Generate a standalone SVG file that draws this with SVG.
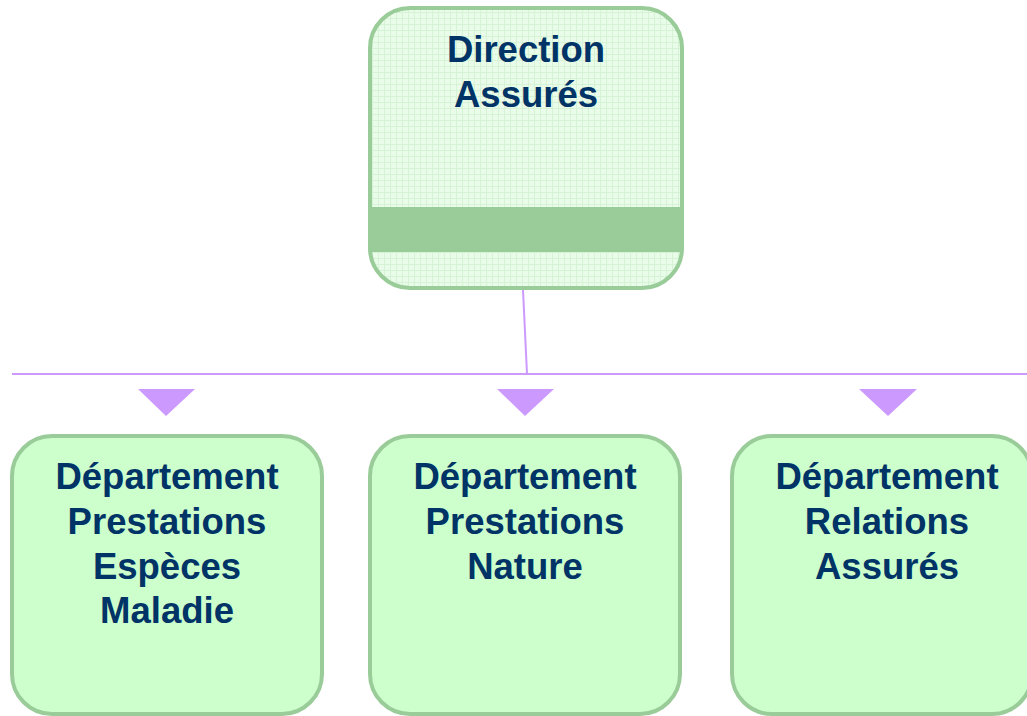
<svg xmlns="http://www.w3.org/2000/svg" width="1027" height="716" viewBox="0 0 1027 716">
<defs>
<pattern id="grid" width="6" height="6" patternUnits="userSpaceOnUse">
<rect width="6" height="6" fill="#e9fce9"/>
<path d="M0 0.5H6M0.5 0V6" stroke="#d6f3d6" stroke-width="1"/>
</pattern>
<clipPath id="topclip"><rect x="370" y="8" width="312" height="280" rx="40" ry="40"/></clipPath>
</defs>
<style>
.box{fill:#ccffcc;stroke:#99cc99;stroke-width:4}
.lbl{font-family:"Liberation Sans",Arial,sans-serif;font-weight:bold;font-size:36.5px;fill:#003366;text-anchor:middle}
.con{stroke:#cc99ff;stroke-width:2;fill:none}
.tri{fill:#cc99ff}
</style>
<rect width="1027" height="716" fill="#ffffff"/>
<g id="connectors">
<line class="con" x1="523" y1="290" x2="527" y2="374"/>
<line class="con" x1="12" y1="374" x2="1027" y2="374"/>
<polygon class="tri" points="138,389 195,389 166,416"/>
<polygon class="tri" points="497,389 554,389 525,416"/>
<polygon class="tri" points="859,389 917,389 888,416"/>
</g>
<g id="direction">
<rect x="370" y="8" width="312" height="280" rx="40" ry="40" fill="url(#grid)"/>
<rect x="370" y="207" width="312" height="45" fill="#99cc99" clip-path="url(#topclip)"/>
<rect x="370" y="8" width="312" height="280" rx="40" ry="40" fill="none" stroke="#99cc99" stroke-width="4"/>
<text class="lbl" x="526" y="62">Direction</text>
<text class="lbl" x="526" y="107">Assurés</text>
</g>
<g id="dept-especes">
<rect class="box" x="12" y="436" width="310" height="278" rx="40" ry="40"/>
<text class="lbl" x="167" y="489">Département</text>
<text class="lbl" x="167" y="534">Prestations</text>
<text class="lbl" x="167" y="579">Espèces</text>
<text class="lbl" x="167" y="623">Maladie</text>
</g>
<g id="dept-nature">
<rect class="box" x="370" y="436" width="310" height="278" rx="40" ry="40"/>
<text class="lbl" x="525" y="489">Département</text>
<text class="lbl" x="525" y="534">Prestations</text>
<text class="lbl" x="525" y="579">Nature</text>
</g>
<g id="dept-relations">
<rect class="box" x="732" y="436" width="300" height="278" rx="40" ry="40"/>
<text class="lbl" x="887" y="489">Département</text>
<text class="lbl" x="887" y="534">Relations</text>
<text class="lbl" x="887" y="579">Assurés</text>
</g>
</svg>
